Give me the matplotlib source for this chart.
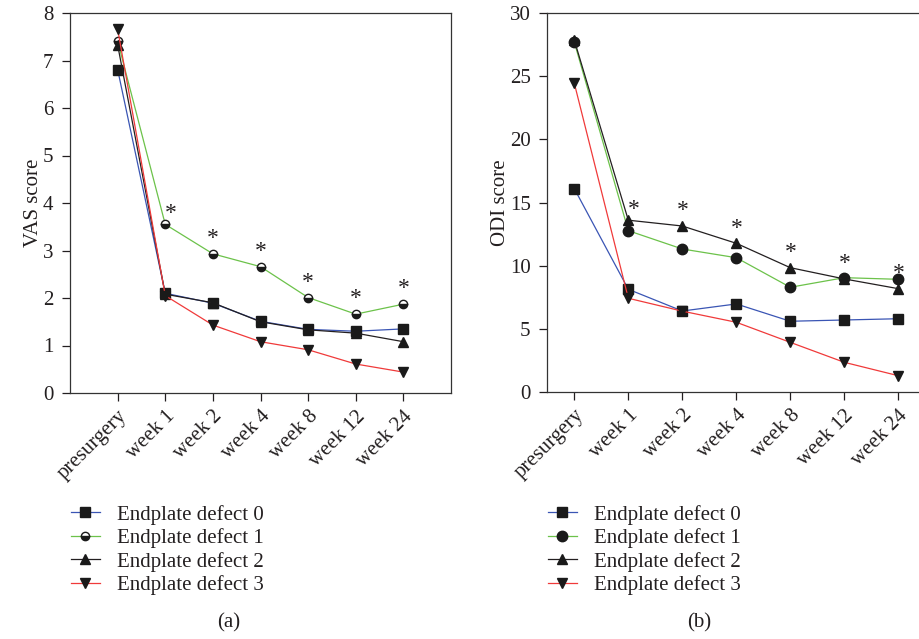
import matplotlib
matplotlib.use('Agg')
import matplotlib.pyplot as plt

plt.rcParams['font.family'] = ['Liberation Serif', 'DejaVu Serif']

# time points
timepoints = ['presurgery', 'week 1', 'week 2', 'week 4', 'week 8', 'week 12', 'week 24']
series_names = ['Endplate defect 0', 'Endplate defect 1', 'Endplate defect 2', 'Endplate defect 3']

# VAS scores (panel a)
vas_d0 = [6.81, 2.10, 1.89, 1.51, 1.34, 1.30, 1.35]
vas_d1 = [7.41, 3.55, 2.93, 2.66, 2.01, 1.66, 1.87]
vas_d2 = [7.33, 2.08, 1.90, 1.50, 1.33, 1.26, 1.08]
vas_d3 = [7.66, 2.05, 1.43, 1.08, 0.91, 0.61, 0.44]

# ODI scores (panel b)
odi_d0 = [16.1, 8.13, 6.41, 6.97, 5.60, 5.70, 5.80]
odi_d1 = [27.7, 12.77, 11.32, 10.63, 8.29, 9.05, 8.92]
odi_d2 = [27.85, 13.6, 13.14, 11.77, 9.84, 8.95, 8.18]
odi_d3 = [24.44, 7.42, 6.40, 5.52, 3.93, 2.35, 1.29]

colors = ['#3a55b4', '#6cc24a', '#231f20', '#f03a3a']
txt = '#231f20'
FS = 15

fig = plt.figure(figsize=(9.19, 6.39), dpi=100)
ax1 = fig.add_axes([70 / 919, 246 / 639, 381 / 919, 380 / 639])
ax2 = fig.add_axes([547.3 / 919, 247 / 639, 378 / 919, 379 / 639])


def draw(ax, data, circle_style, star_series, ylim, yticks, ylabel):
    x = list(range(len(timepoints)))
    styles = [dict(marker='s', ms=7.5),
              circle_style,
              dict(marker='^', ms=7),
              dict(marker='v', ms=7)]
    handles = []
    for vals, c, st in zip(data, colors, styles):
        kw = dict(mfc='#1a1a1a', mec='#1a1a1a')
        kw.update(st)
        ln, = ax.plot(x, vals, color=c, lw=0.9, **kw)
        handles.append(ln)
    # significance stars
    sv = data[star_series]
    for i in range(1, len(x)):
        dx = 4 if i == 1 else 0
        dy = 8 if i == 1 else 11
        ax.annotate('*', (x[i], sv[i]), xytext=(dx, dy), textcoords='offset points',
                    ha='center', va='center', fontsize=17, color=txt)
    ax.set_ylim(*ylim)
    ax.set_yticks(yticks)
    ax.set_xticks(x)
    ax.set_xticklabels(timepoints, rotation=45, ha='right', rotation_mode='anchor')
    ax.set_ylabel(ylabel, fontsize=FS, color=txt, labelpad=0)
    ax.tick_params(axis='both', labelsize=FS, colors=txt, length=6, width=0.9, direction='out')
    ax.tick_params(axis='y', pad=6)
    ax.tick_params(axis='x', pad=4)
    for sp in ax.spines.values():
        sp.set_linewidth(0.9)
        sp.set_color('#333333')
    return handles


h1 = draw(ax1, [vas_d0, vas_d1, vas_d2, vas_d3],
          dict(marker='o', ms=6, fillstyle='bottom', mfcalt='white'),
          1, (0, 8), range(0, 9), 'VAS score')
ax1.set_xlim(-1, 7)

h2 = draw(ax2, [odi_d0, odi_d1, odi_d2, odi_d3],
          dict(marker='o', ms=7.5),
          2, (0, 30), range(0, 31, 5), 'ODI score')
ax2.set_xlim(-0.5, 6.5)

leg_kw = dict(loc='upper left', frameon=False, fontsize=FS, handlelength=1.4,
              handletextpad=0.8, labelspacing=0.17, labelcolor=txt)
fig.legend(h1, series_names, bbox_to_anchor=(52 / 919, 1 - 486 / 639), **leg_kw)
fig.legend(h2, series_names, bbox_to_anchor=(529 / 919, 1 - 486 / 639), **leg_kw)

fig.text(228.7 / 919, 1 - 623 / 639, '(a)', ha='center', va='center', fontsize=FS, color=txt)
fig.text(699 / 919, 1 - 623 / 639, '(b)', ha='center', va='center', fontsize=FS, color=txt)

fig.savefig('out.png', dpi=100)
